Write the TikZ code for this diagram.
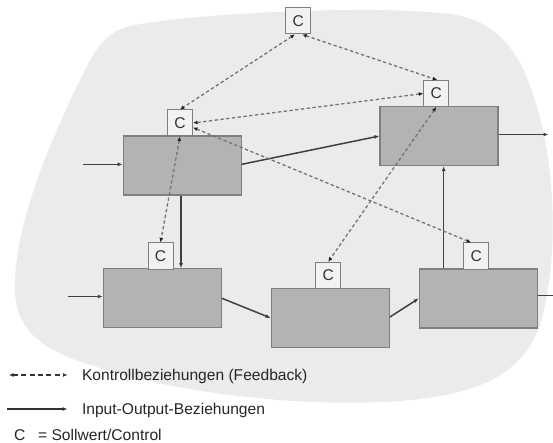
\documentclass[tikz,border=0pt]{standalone}
\usepackage{fontspec}
\setmainfont{Liberation Sans}
\usetikzlibrary{arrows.meta,calc}
\definecolor{bg}{HTML}{EBEBEB}
\definecolor{boxfill}{HTML}{B3B3B3}
\definecolor{boxline}{HTML}{7F7F7F}
\definecolor{cfill}{HTML}{F2F2F2}
\definecolor{ioline}{HTML}{404040}
\definecolor{fbline}{HTML}{737373}
\definecolor{tipcol}{HTML}{202020}
\begin{document}
\begin{tikzpicture}[x=1pt,y=-1pt,
 proc/.style={draw=boxline, fill=boxfill, line width=1.2pt, minimum width=118pt, minimum height=59pt, inner sep=0pt},
 ctrl/.style={draw=boxline, fill=cfill, line width=1pt, minimum width=25pt, minimum height=26pt, inner sep=0pt, text=black!80, font=\fontsize{15.6}{18}\selectfont},
 io/.style={draw=ioline, line width=1.5pt, -{Latex[length=5pt,width=4pt]}},
 fb/.style={draw=fbline, line width=1.3pt, dash pattern=on 3.3pt off 2.5pt, {Latex[length=4.5pt,width=4pt,color=tipcol]}-{Latex[length=4.5pt,width=4pt,color=tipcol]}},
 fbleg/.style={draw=black!80, line width=1.1pt, dash pattern=on 5pt off 3.3pt, {Latex[length=4.5pt,width=4pt]}-{Latex[length=4.5pt,width=4pt]}},
 ioleg/.style={draw=black!80, line width=1.2pt, -{Latex[length=5pt,width=4pt]}},
 lbl/.style={font=\fontsize{15.6}{18}\selectfont, text=black!85, inner sep=0pt, anchor=base west}]
\useasboundingbox (0,0) rectangle (553,443);
% background blob
\fill[bg] (130,26) .. controls (200,12) and (380,5) .. (450,14)
 .. controls (510,22) and (530,70) .. (545,140)
 .. controls (556,200) and (556,270) .. (540,325)
 .. controls (520,380) and (470,395) .. (400,401)
 .. controls (300,408) and (180,393) .. (100,368)
 .. controls (40,350) and (12,330) .. (15,280)
 .. controls (17,220) and (50,140) .. (85,70)
 .. controls (100,40) and (110,32) .. (130,26) -- cycle;
% process boxes
\node[proc] (A) at (182.2,165.5) {};
\node[proc] (B) at (439,136) {};
\node[proc] (D) at (162.4,298.3) {};
\node[proc] (E) at (330.3,318) {};
\node[proc] (F) at (478.3,298.5) {};
% control boxes
\node[ctrl] (T)  at (298.2,21) {C};
\node[ctrl] (CA) at (180,123) {C};
\node[ctrl] (CB) at (436.3,93.5) {C};
\node[ctrl] (CD) at (160.5,256) {C};
\node[ctrl] (CE) at (328.2,275.3) {C};
\node[ctrl] (CF) at (476.2,256) {C};
% free ends
\coordinate (inA) at (83,164.3);
\coordinate (outB) at (548.5,134.5);
\coordinate (inD) at (68,296.5);
\coordinate (outF) at (553,295.3);
% input-output connectors
\draw[io] (inA) -- (inA -| A.west);
\draw[io] ([yshift=1.2pt]A.east) -- (B.west);
\draw[io] (outB -| B.east) -- (outB);
\draw[io] ([xshift=-1.2pt]A.south) -- ([xshift=-1.2pt]A.south |- D.north);
\draw[io] (inD) -- (inD -| D.west);
\draw[io] (D.east) -- (E.west);
\draw[io] ([yshift=1pt]E.east) -- (F.west);
\draw[io] ([xshift=-34.6pt]F.north) -- ([xshift=-34.6pt]F.north |- B.south);
\draw[draw=ioline, line width=1.5pt] (outF -| F.east) -- (outF);
% feedback connectors
\draw[fb] ([xshift=-3.3pt]T.south) -- (CA.north);
\draw[fb] ([xshift=4pt]T.south) -- ([xshift=1pt]CB.north);
\draw[fb] (CB.west) -- (CA.east);
\draw[fb] ([yshift=-4.5pt]CA.east) -- ([xshift=-5pt]CF.north);
\draw[fb] (CA.south) -- (CD.north);
\draw[fb] (CB.south) -- (CE.north);
% legend
\coordinate (l1a) at (9,375);
\coordinate (l1b) at (67.5,375);
\coordinate (l2a) at (7,409);
\coordinate (l2b) at (67.5,409);
\draw[fbleg] (l1a) -- (l1b);
\draw[ioleg] (l2a) -- (l2b);
\node[lbl] (t1) at (81.8,380.5) {Kontrollbeziehungen (Feedback)};
\node[lbl] (t2) at (81.8,414.3) {Input-Output-Beziehungen};
\node[lbl] (t3) at (14,440) {C\hspace*{12.7pt}= Sollwert/Control};
\end{tikzpicture}
\end{document}
